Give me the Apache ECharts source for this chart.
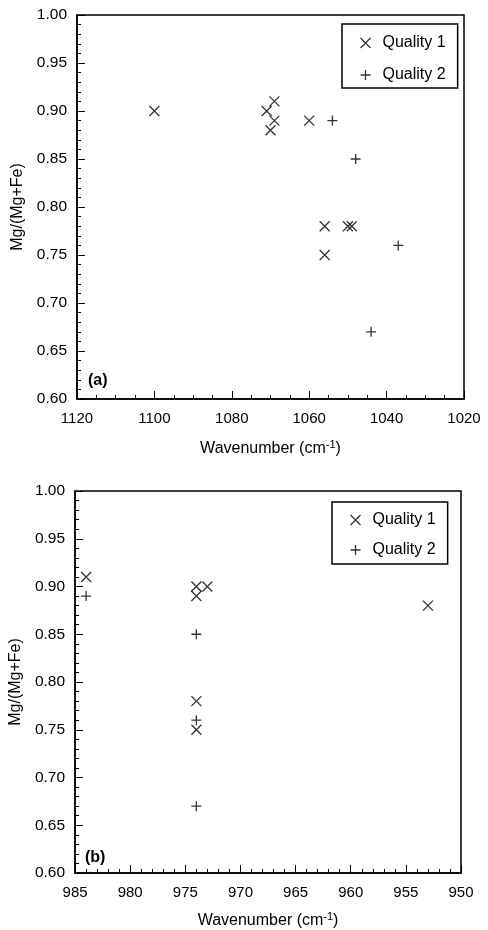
<!DOCTYPE html>
<html>
<head>
<meta charset="utf-8">
<style>
  html, body { margin: 0; padding: 0; background: #fff; }
  #chart { width: 488px; height: 930px; }
</style>
<script src="https://cdn.jsdelivr.net/npm/echarts@6/dist/echarts.min.js"></script>
</head>
<body>
<div id="chart"></div>
<script>
// Panel (a): Mg/(Mg+Fe) against band position near 1050 cm-1
const panelA_q1_wavenumber = [1100, 1071, 1069, 1069, 1070, 1060, 1056, 1056, 1050, 1049];
const panelA_q1_mgNumber   = [0.90, 0.90, 0.91, 0.89, 0.88, 0.89, 0.78, 0.75, 0.78, 0.78];
const panelA_q2_wavenumber = [1054, 1048, 1037, 1044];
const panelA_q2_mgNumber   = [0.89, 0.85, 0.76, 0.67];

// Panel (b): Mg/(Mg+Fe) against band position near 970 cm-1
const panelB_q1_wavenumber = [984, 974, 974, 973, 974, 974, 953];
const panelB_q1_mgNumber   = [0.91, 0.90, 0.89, 0.90, 0.78, 0.75, 0.88];
const panelB_q2_wavenumber = [984, 974, 974, 974];
const panelB_q2_mgNumber   = [0.89, 0.85, 0.76, 0.67];

// Axis ranges and tick steps
const panelA_xRange = [1020, 1120], panelA_xStep = 20;
const panelB_xRange = [950, 985],   panelB_xStep = 5;
const yRange = [0.60, 1.00], yStep = 0.05;

const seriesNames = ['Quality 1', 'Quality 2'];

const FONT = '"Liberation Sans", Arial, Helvetica, sans-serif';
const CROSS = 'path://M0,0L10,10M10,0L0,10';
const PLUS  = 'path://M5,0L5,10M0,5L10,5';

function pairs(xs, ys) { return xs.map((x, i) => [x, ys[i]]); }

const markerStyle = { color: 'none', borderColor: '#000', borderWidth: 1.3 };

function xAxis(gridIndex, range, step, minorSplit, nameGap) {
  return {
    gridIndex, type: 'value', inverse: true,
    min: range[0], max: range[1], interval: step,
    name: '{t|Wavenumber (cm}{s|-1}{t|)}',
    nameLocation: 'middle', nameGap,
    nameTextStyle: {
      rich: {
        t: { fontFamily: FONT, fontSize: 16, color: '#000' },
        s: { fontFamily: FONT, fontSize: 11, color: '#000', padding: [0, 0, 9, 0] }
      }
    },
    axisLine: { onZero: false, lineStyle: { color: '#000', width: 1.5 } },
    axisTick: { inside: true, length: 8, lineStyle: { color: '#000', width: 1 } },
    minorTick: { show: true, splitNumber: minorSplit, length: 4, lineStyle: { color: '#000', width: 1 } },
    splitLine: { show: false },
    axisLabel: { fontFamily: FONT, fontSize: 15, color: '#000', margin: 12,
                 formatter: v => String(v) }
  };
}

function yAxis(gridIndex) {
  return {
    gridIndex, type: 'value',
    min: yRange[0], max: yRange[1], interval: yStep,
    name: 'Mg/(Mg+Fe)', nameLocation: 'middle', nameRotate: 90, nameGap: 46,
    nameTextStyle: { fontFamily: FONT, fontSize: 16, color: '#000' },
    axisLine: { onZero: false, lineStyle: { color: '#000', width: 1.5 } },
    axisTick: { inside: true, length: 8, lineStyle: { color: '#000', width: 1 } },
    minorTick: { show: true, splitNumber: 5, length: 4, lineStyle: { color: '#000', width: 1 } },
    splitLine: { show: false },
    axisLabel: { fontFamily: FONT, fontSize: 15.5, color: '#000', margin: 10,
                 formatter: v => v.toFixed(2) }
  };
}

function scatter(name, symbol, axisIndex, xs, ys) {
  return {
    type: 'scatter', name, symbol, symbolSize: 10,
    xAxisIndex: axisIndex, yAxisIndex: axisIndex,
    itemStyle: markerStyle,
    emphasis: { disabled: true },
    data: pairs(xs, ys)
  };
}

function legend(left, top, padding, itemGap) {
  return {
    left, top, orient: 'vertical', padding, itemGap,
    itemWidth: 10, itemHeight: 10,
    borderColor: '#000', borderWidth: 1.5,
    textStyle: { fontFamily: FONT, fontSize: 16, color: '#000', padding: [0, 0, 0, 7] },
    data: [
      { name: seriesNames[0], icon: CROSS, itemStyle: markerStyle },
      { name: seriesNames[1], icon: PLUS, itemStyle: markerStyle }
    ],
    selectedMode: false
  };
}

const chart = echarts.init(document.getElementById('chart'), null, { renderer: 'canvas' });

chart.setOption({
  animation: false,
  backgroundColor: '#fff',
  grid: [
    { left: 77, right: 24, top: 15, height: 384, show: true, borderColor: '#000', borderWidth: 1.5 },
    { left: 75, right: 27, top: 491, height: 385, show: true, borderColor: '#000', borderWidth: 1.5 }
  ],
  xAxis: [
    xAxis(0, panelA_xRange, panelA_xStep, 4, 40),
    xAxis(1, panelB_xRange, panelB_xStep, 5, 38)
  ],
  yAxis: [yAxis(0), yAxis(1)],
  legend: [
    legend(342, 24, [11, 12, 5, 16], 16),
    legend(332, 502, [10, 12, 6, 16], 14)
  ],
  series: [
    scatter(seriesNames[0], CROSS, 0, panelA_q1_wavenumber, panelA_q1_mgNumber),
    scatter(seriesNames[1], PLUS, 0, panelA_q2_wavenumber, panelA_q2_mgNumber),
    scatter(seriesNames[0], CROSS, 1, panelB_q1_wavenumber, panelB_q1_mgNumber),
    scatter(seriesNames[1], PLUS, 1, panelB_q2_wavenumber, panelB_q2_mgNumber)
  ],
  graphic: [
    { type: 'text', left: 88, top: 373,
      style: { text: '(a)', fontFamily: FONT, fontSize: 16, fontWeight: 'bold', fill: '#000' } },
    { type: 'text', left: 85, top: 850,
      style: { text: '(b)', fontFamily: FONT, fontSize: 16, fontWeight: 'bold', fill: '#000' } }
  ]
});
</script>
</body>
</html>
